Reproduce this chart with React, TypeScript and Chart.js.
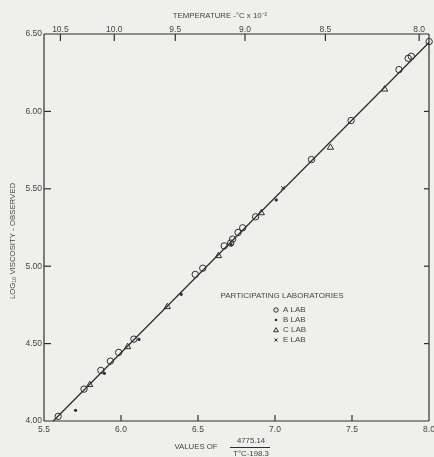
import React, { useEffect, useRef } from "react";
import { Chart, registerables } from "chart.js";
Chart.register(...registerables);

// ---- data ----
const aX = [5.592, 5.76, 5.869, 5.931, 5.985, 6.084, 6.482, 6.531, 6.67, 6.712, 6.725, 6.76, 6.79, 6.874, 7.237, 7.494, 7.805, 7.865, 7.885, 8.001];
const aY = [4.03, 4.206, 4.327, 4.387, 4.443, 4.529, 4.947, 4.987, 5.131, 5.149, 5.175, 5.218, 5.248, 5.319, 5.689, 5.941, 6.27, 6.343, 6.356, 6.451];
const bX = [5.705, 5.892, 6.117, 6.391, 6.715, 7.008];
const bY = [4.069, 4.308, 4.527, 4.818, 5.14, 5.428];
const cX = [5.797, 6.043, 6.301, 6.633, 6.911, 7.36, 7.712];
const cY = [4.234, 4.479, 4.738, 5.067, 5.344, 5.767, 6.143];
const eX = [7.052];
const eY = [5.506];
const fitX = [5.56, 8.0];
const fitY = [4.0, 6.445];

const xTickValues = [5.5, 6.0, 6.5, 7.0, 7.5, 8.0];
const yTickValues = [4.0, 4.5, 5.0, 5.5, 6.0, 6.5];
const tempTicks = [10.5, 10.0, 9.5, 9.0, 8.5, 8.0];
const tempLabels = ["10.5", "10.0", "9.5", "9.0", "8.5", "8.0"];
const legendLabels = ["A LAB", "B LAB", "C LAB", "E LAB"];

const INK = "#2f2f2f";
const TXT = "#444444";
const BG = "#efefed";
const FONT = "'Liberation Sans', Arial, sans-serif";

const pts = (xs: number[], ys: number[]) => xs.map((x, i) => ({ x, y: ys[i] }));
const tempToX = (t: number) => 4775.14 / (t * 100 - 198.3);

function drawSym(ctx: CanvasRenderingContext2D, kind: number, x: number, y: number, r: number) {
  ctx.beginPath();
  if (kind === 0) {
    ctx.arc(x, y, r, 0, Math.PI * 2);
    ctx.stroke();
  } else if (kind === 1) {
    ctx.arc(x, y, r * 0.6, 0, Math.PI * 2);
    ctx.fill();
  } else if (kind === 2) {
    ctx.moveTo(x, y - r * 1.1);
    ctx.lineTo(x + r * 1.1, y + r * 0.8);
    ctx.lineTo(x - r * 1.1, y + r * 0.8);
    ctx.closePath();
    ctx.stroke();
  } else {
    const d = r * 0.7;
    ctx.moveTo(x - d, y - d);
    ctx.lineTo(x + d, y + d);
    ctx.moveTo(x + d, y - d);
    ctx.lineTo(x - d, y + d);
    ctx.stroke();
  }
}

const decor = {
  id: "decor",
  beforeDraw(chart: any) {
    const ctx = chart.ctx;
    ctx.save();
    ctx.fillStyle = BG;
    ctx.fillRect(0, 0, chart.width, chart.height);
    ctx.restore();
  },
  afterDraw(chart: any) {
    const ctx: CanvasRenderingContext2D = chart.ctx;
    const { left, right, top, bottom } = chart.chartArea;
    const xs = chart.scales.x;
    const x2 = chart.scales.x2;
    const ys = chart.scales.y;
    ctx.save();
    ctx.strokeStyle = INK;
    ctx.lineWidth = 1.2;
    const ln = (a: number, b: number, c: number, d: number) => {
      ctx.beginPath();
      ctx.moveTo(a, b);
      ctx.lineTo(c, d);
      ctx.stroke();
    };
    // frame
    ln(left, top, right, top);
    ln(left, bottom, right, bottom);
    ln(left, top, left, bottom);
    ln(right, top, right, bottom);
    // inward ticks
    xs.ticks.forEach((t: any) => {
      const p = xs.getPixelForValue(t.value);
      if (p > left + 1 && p < right - 1) ln(p, bottom, p, bottom - 6);
    });
    x2.ticks.forEach((t: any) => {
      const p = x2.getPixelForValue(t.value);
      ln(p, top, p, top + 7);
    });
    ys.ticks.forEach((t: any) => {
      const p = ys.getPixelForValue(t.value);
      if (p > top + 1 && p < bottom - 1) {
        ln(left, p, left + 7, p);
        ln(right, p, right - 5, p);
      }
    });

    // titles
    ctx.fillStyle = TXT;
    ctx.textBaseline = "middle";
    ctx.textAlign = "center";
    ctx.font = `7.8px ${FONT}`;
    ctx.fillText("TEMPERATURE -°C x 10⁻²", 220, 16);

    ctx.save();
    ctx.translate(12.5, 241);
    ctx.rotate(-Math.PI / 2);
    ctx.fillText("LOG₁₀ VISCOSITY - OBSERVED", 0, 0);
    ctx.restore();

    ctx.fillText("VALUES OF", 196, 447);
    ctx.fillText("4775.14", 251, 441);
    ctx.fillText("T°C-198.3", 251, 454);
    ctx.lineWidth = 1;
    ln(230, 447.5, 270, 447.5);

    // legend
    ctx.font = `8px ${FONT}`;
    ctx.fillText("PARTICIPATING LABORATORIES", 282, 296);
    ctx.textAlign = "left";
    ctx.fillStyle = INK;
    legendLabels.forEach((lab, i) => {
      const yy = 310 + i * 10;
      ctx.lineWidth = 1;
      drawSym(ctx, i, 276, yy, 2.2);
      ctx.fillStyle = TXT;
      ctx.fillText(lab, 283, yy);
      ctx.fillStyle = INK;
    });
    ctx.restore();
  },
};

export default function App() {
  const ref = useRef<HTMLCanvasElement | null>(null);
  useEffect(() => {
    document.body.style.margin = "0";
    document.body.style.background = BG;
    const canvas = ref.current!;
    const tickFont = { family: FONT, size: 8.5, lineHeight: 1 };
    const chart = new Chart(canvas, {
      type: "scatter",
      data: {
        datasets: [
          {
            label: "fit",
            data: pts(fitX, fitY),
            showLine: true,
            borderColor: INK,
            borderWidth: 1.3,
            pointRadius: 0,
            clip: false as any,
          },
          {
            label: "A LAB",
            data: pts(aX, aY),
            pointStyle: "circle",
            pointRadius: 3.2,
            borderColor: INK,
            borderWidth: 1,
            backgroundColor: "rgba(0,0,0,0)",
            clip: false as any,
          },
          {
            label: "B LAB",
            data: pts(bX, bY),
            pointStyle: "circle",
            pointRadius: 1.6,
            borderWidth: 0,
            backgroundColor: INK,
            clip: false as any,
          },
          {
            label: "C LAB",
            data: pts(cX, cY),
            pointStyle: "triangle",
            pointRadius: 3.6,
            borderColor: INK,
            borderWidth: 1,
            backgroundColor: "rgba(0,0,0,0)",
            clip: false as any,
          },
          {
            label: "E LAB",
            data: pts(eX, eY),
            pointStyle: "crossRot",
            pointRadius: 2.5,
            borderColor: INK,
            borderWidth: 1,
            clip: false as any,
          },
        ],
      },
      options: {
        responsive: false,
        devicePixelRatio: 1,
        animation: false,
        layout: { padding: { left: 0, right: 4, top: 0, bottom: 0 } },
        plugins: { legend: { display: false }, tooltip: { enabled: false } },
        scales: {
          x: {
            type: "linear",
            position: "bottom",
            min: 5.5,
            max: 8.0,
            afterBuildTicks: (axis: any) => {
              axis.ticks = xTickValues.map((v) => ({ value: v }));
            },
            ticks: {
              color: TXT,
              font: tickFont,
              padding: 4,
              maxRotation: 0,
              autoSkip: false,
              callback: (v: any) => Number(v).toFixed(1),
            },
            grid: { display: false, drawTicks: false },
            border: { display: false },
            afterFit: (s: any) => {
              s.height = 36;
              s.paddingLeft = 0;
              s.paddingRight = 0;
            },
          },
          x2: {
            type: "linear",
            position: "top",
            min: 5.5,
            max: 8.0,
            afterBuildTicks: (axis: any) => {
              axis.ticks = tempTicks.map((t) => ({ value: tempToX(t) }));
            },
            ticks: {
              color: TXT,
              font: tickFont,
              padding: 0,
              maxRotation: 0,
              autoSkip: false,
              callback: (_v: any, i: number) => tempLabels[i],
            },
            grid: { display: false, drawTicks: false },
            border: { display: false },
            afterFit: (s: any) => {
              s.height = 34;
              s.paddingLeft = 0;
              s.paddingRight = 0;
            },
          },
          y: {
            type: "linear",
            position: "left",
            min: 4.0,
            max: 6.5,
            afterBuildTicks: (axis: any) => {
              axis.ticks = yTickValues.map((v) => ({ value: v }));
            },
            ticks: {
              color: TXT,
              font: tickFont,
              padding: 2,
              autoSkip: false,
              callback: (v: any) => Number(v).toFixed(2),
            },
            grid: { display: false, drawTicks: false },
            border: { display: false },
            afterFit: (s: any) => {
              s.width = 44;
              s.paddingTop = 0;
              s.paddingBottom = 0;
            },
          },
        },
      } as any,
      plugins: [decor],
    });
    return () => chart.destroy();
  }, []);
  return (
    <canvas
      ref={ref}
      width={434}
      height={457}
      style={{ display: "block", width: 434, height: 457 }}
    />
  );
}
